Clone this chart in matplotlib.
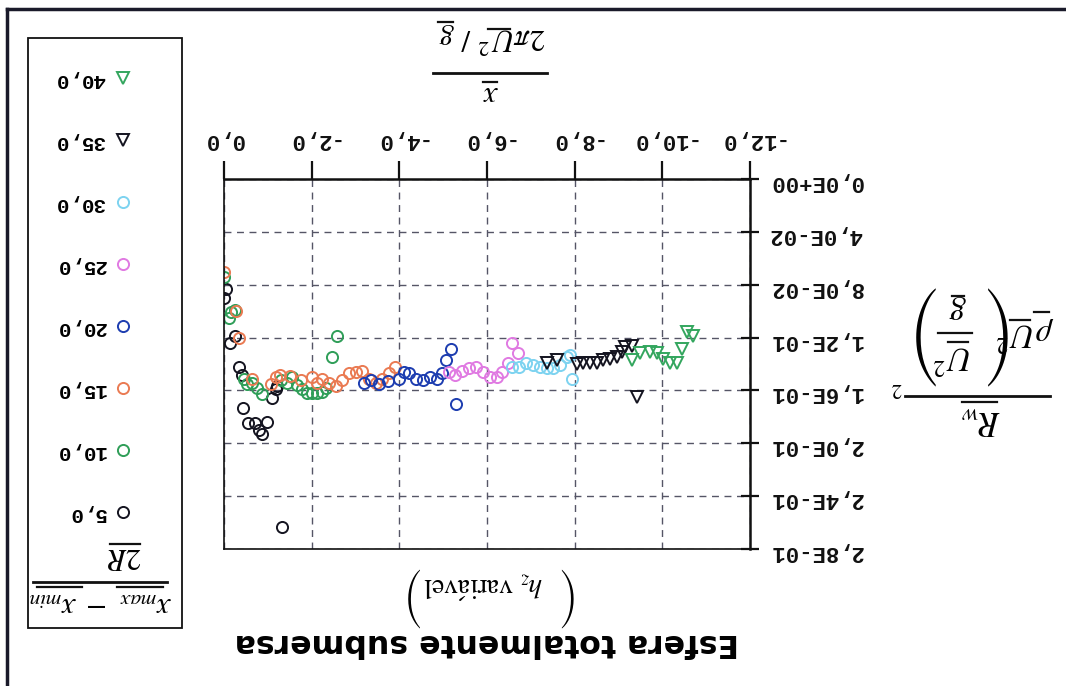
import matplotlib
matplotlib.use('Agg')
import matplotlib.pyplot as plt
from matplotlib.lines import Line2D
from matplotlib.patches import Rectangle

plt.rcParams['mathtext.fontset'] = 'stix'

# the scanned page is upside down, so everything is drawn turned by 180 degrees
W, H = 1066, 686

# series values (x = x/(2 pi U^2/g), y = R_w/(rho U^2 (U^2/g)^2))
x_05 = [0.0, -0.05, -0.14, -0.25, -0.34, -0.41, -0.43, -0.55, -0.71, -0.80, -0.87, -0.98, -1.10, -1.19, -1.21, -1.33]
y_05 = [0.090, 0.083, 0.124, 0.119, 0.142, 0.148, 0.173, 0.185, 0.185, 0.190, 0.193, 0.184, 0.166, 0.159, 0.157, 0.263]

x_10 = [0.0, -0.11, -0.16, -0.25, -0.46, -0.53, -0.64, -0.75, -0.87, -1.30, -1.44, -1.55, -1.67, -1.78, -1.90,
        -2.01, -2.13, -2.24, -2.33, -2.47, -2.58]
y_10 = [0.074, 0.105, 0.101, 0.099, 0.151, 0.155, 0.154, 0.158, 0.163, 0.152, 0.154, 0.150, 0.156, 0.159, 0.162,
        0.162, 0.162, 0.161, 0.158, 0.135, 0.119]

x_15 = [0.0, -0.27, -0.34, -0.64, -1.07, -1.19, -1.28, -1.50, -1.75, -2.01, -2.13, -2.24, -2.40, -2.56, -2.70,
        -2.86, -3.02, -3.15, -3.31, -3.47, -3.61, -3.77, -3.89]
y_15 = [0.070, 0.100, 0.120, 0.151, 0.155, 0.150, 0.148, 0.149, 0.152, 0.150, 0.154, 0.151, 0.154, 0.157, 0.152,
        0.147, 0.146, 0.145, 0.151, 0.154, 0.151, 0.147, 0.142]

x_20 = [-3.20, -3.36, -3.54, -3.75, -4.00, -4.11, -4.23, -4.39, -4.53, -4.69, -4.85, -4.98, -5.07, -5.19, -5.30]
y_20 = [0.154, 0.152, 0.155, 0.153, 0.151, 0.146, 0.147, 0.151, 0.152, 0.150, 0.151, 0.147, 0.137, 0.129, 0.170]

x_25 = [-5.14, -5.28, -5.44, -5.60, -5.76, -5.90, -6.06, -6.22, -6.35, -6.47, -6.58, -6.70]
y_25 = [0.146, 0.148, 0.145, 0.143, 0.142, 0.146, 0.150, 0.150, 0.146, 0.139, 0.124, 0.132]

x_30 = [-6.58, -6.74, -6.90, -7.04, -7.20, -7.36, -7.50, -7.66, -7.82, -7.89, -7.95]
y_30 = [0.142, 0.142, 0.139, 0.141, 0.142, 0.143, 0.143, 0.141, 0.135, 0.133, 0.151]

x_35 = [-7.36, -7.59, -8.05, -8.18, -8.34, -8.50, -8.64, -8.80, -8.96, -9.07, -9.14, -9.30, -9.42]
y_35 = [0.139, 0.137, 0.140, 0.139, 0.139, 0.139, 0.137, 0.136, 0.135, 0.131, 0.127, 0.126, 0.165]

x_40 = [-9.30, -9.49, -9.71, -9.87, -10.01, -10.17, -10.33, -10.45, -10.56, -10.70]
y_40 = [0.137, 0.132, 0.131, 0.132, 0.136, 0.139, 0.139, 0.129, 0.116, 0.119]

labels = ['5,0', '10,0', '15,0', '20,0', '25,0', '30,0', '35,0', '40,0']
xs = [x_05, x_10, x_15, x_20, x_25, x_30, x_35, x_40]
ys = [y_05, y_10, y_15, y_20, y_25, y_30, y_35, y_40]
markers = ['o', 'o', 'o', 'o', 'o', 'o', 'v', 'v']
colors = ['#141420', '#2f9e58', '#ea7a52', '#1d3db0', '#e07ae2', '#7dd3f0', '#141420', '#33a65e']

xticks = [0, -2, -4, -6, -8, -10, -12]
xtick_labels = ['0,0', '-2,0', '-4,0', '-6,0', '-8,0', '-10,0', '-12,0']
yticks = [0.0, 0.04, 0.08, 0.12, 0.16, 0.20, 0.24, 0.28]
ytick_labels = ['0,0E+00', '4,0E-02', '8,0E-02', '1,2E-01', '1,6E-01', '2,0E-01', '2,4E-01', '2,8E-01']

tick_font = dict(family='Liberation Mono', weight='bold', size=16)


def fx(px):
    return px / W


def fy(py):
    return 1 - py / H


def rtext(px, py, s, **kw):
    fig.text(fx(px), fy(py), s, rotation=180, ha='center', va='center', **kw)


def hline(x0, x1, py, lw=1.6):
    fig.add_artist(Line2D([fx(x0), fx(x1)], [fy(py), fy(py)], color='#111', lw=lw,
                          transform=fig.transFigure))


fig = plt.figure(figsize=(W / 100, H / 100), dpi=100)
ax = fig.add_axes([fx(224), fy(549), (750 - 224) / W, (549 - 179) / H])

handles = []
for x, y, m, c, lab in zip(xs, ys, markers, colors, labels):
    h, = ax.plot(x, y, linestyle='none', marker=m, mfc='none', mec=c, ms=8, mew=1.4, label=lab)
    handles.append(h)

ax.set_xlim(0, -12)
ax.set_ylim(0.28, 0)
ax.xaxis.tick_top()
ax.yaxis.tick_right()
ax.set_xticks(xticks)
ax.set_xticklabels(xtick_labels, rotation=180, **tick_font)
ax.set_yticks(yticks)
ax.set_yticklabels(ytick_labels, rotation=180, **tick_font)
ax.tick_params(axis='x', direction='out', length=13, width=1.6, pad=8, colors='#111')
ax.tick_params(axis='y', direction='inout', length=13, width=1.6, pad=7, colors='#111')
ax.grid(True, linestyle=(0, (5, 4)), color='#555566', linewidth=1.0)
for side, s in ax.spines.items():
    s.set_color('#111')
    s.set_linewidth(1.8 if side in ('top', 'right') else 1.2)

# legend (upside down: marker to the right, header at the bottom)
leg = ax.legend(handles[::-1], labels[::-1], loc='upper right', bbox_to_anchor=(fx(144), fy(60)),
                bbox_transform=fig.transFigure, frameon=False, markerfirst=False,
                labelspacing=2.06, handlelength=1.0, handletextpad=0.35, borderpad=0,
                prop=dict(family='Liberation Mono', weight='bold', size=15))
for t in leg.get_texts():
    t.set_rotation(180)
fig.add_artist(Rectangle((fx(28), fy(628)), (182 - 28) / W, (628 - 38) / H, fill=False,
                         edgecolor='#111', lw=1.3, transform=fig.transFigure))
rtext(100, 605, r'$x_{max}\ -\ x_{min}$', fontsize=22)
hline(33, 167, 582, 2)
hline(117, 163, 587)
hline(37, 82, 587)
rtext(124, 557, r'$2R$', fontsize=22)
hline(110, 140, 544)

# x axis label
rtext(490, 95, r'$x$', fontsize=22)
hline(433, 547, 73, 2)
hline(483, 497, 82)
rtext(492, 38, r'$2\pi U^2\ /\ g$', fontsize=22)
hline(488, 510, 29)
hline(438, 453, 22)

# y axis label
rtext(980, 421, r'$R_w$', fontsize=25)
hline(905, 1050, 396, 2)
hline(962, 997, 402)
rtext(1025, 334, r'$\rho U^2$', fontsize=24)
rtext(985, 335, '(', fontsize=29, family='STIXSizeThreeSym')
rtext(918, 335, ')', fontsize=29, family='STIXSizeThreeSym')
rtext(958, 310, r'$g$', fontsize=25)
hline(938, 972, 333)
rtext(953, 357, r'$U^2$', fontsize=24)
rtext(897, 389, r'$2$', fontsize=15)
hline(1034, 1049, 312)
hline(1010, 1030, 320)
hline(952, 964, 296)
hline(948, 968, 342)

# title and subtitle
rtext(487, 643, 'Esfera totalmente submersa', fontsize=22.7, fontweight='bold', family='DejaVu Sans')
rtext(561, 597, '(', fontsize=17.5, family='STIXSizeThreeSym')
rtext(409, 597, ')', fontsize=17.5, family='STIXSizeThreeSym')
rtext(483, 585, r'$h_z\ \mathrm{vari\acute{a}vel}$', fontsize=20)

# page border of the scan
fig.add_artist(Line2D([fx(7), fx(W)], [fy(9), fy(9)], color='#1a1a2a', lw=2.5, transform=fig.transFigure))
fig.add_artist(Line2D([fx(7), fx(7)], [fy(9), fy(H)], color='#1a1a2a', lw=2.5, transform=fig.transFigure))

fig.savefig('out.png', dpi=100)
